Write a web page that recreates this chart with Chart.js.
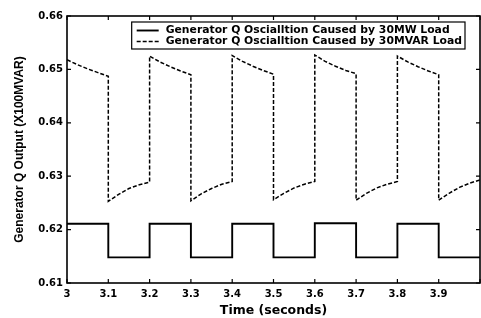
<!DOCTYPE html>
<html>
<head>
<meta charset="utf-8">
<script src="https://cdn.jsdelivr.net/npm/chart.js@4.4.0/dist/chart.umd.min.js"></script>
<style>
  body { margin: 0; background: #fff; }
  #wrap { width: 481px; height: 318px; }
</style>
</head>
<body>
<div id="wrap"><canvas id="myChart"></canvas></div>
<script>
// Q output for the 30MW load case (square wave)
const timeMW = [3.0, 3.1, 3.1, 3.2, 3.2, 3.3, 3.3, 3.4, 3.4, 3.5,
                3.5, 3.6, 3.6, 3.7, 3.7, 3.8, 3.8, 3.9, 3.9, 4.0];
const qMW = [0.6211, 0.6211, 0.6148, 0.6148, 0.6211, 0.6211, 0.6148, 0.6148, 0.6211, 0.6211,
             0.6148, 0.6148, 0.6212, 0.6212, 0.6148, 0.6148, 0.6211, 0.6211, 0.6148, 0.6148];

// Q output for the 30MVAR load case (sawtooth-like)
const timeMVAR = [3.000, 3.025, 3.050, 3.075, 3.100, 3.100, 3.125, 3.150, 3.175, 3.200,
                  3.200, 3.225, 3.250, 3.275, 3.300, 3.300, 3.325, 3.350, 3.375, 3.400,
                  3.400, 3.425, 3.450, 3.475, 3.500, 3.500, 3.525, 3.550, 3.575, 3.600,
                  3.600, 3.625, 3.650, 3.675, 3.700, 3.700, 3.725, 3.750, 3.775, 3.800,
                  3.800, 3.825, 3.850, 3.875, 3.900, 3.900, 3.925, 3.950, 3.975, 4.000];
const qMVAR = [0.6518, 0.6509, 0.6501, 0.6494, 0.6487, 0.6253, 0.6266, 0.6277, 0.6284, 0.6289,
               0.6525, 0.6514, 0.6505, 0.6497, 0.6490, 0.6254, 0.6267, 0.6277, 0.6285, 0.6290,
               0.6526, 0.6515, 0.6506, 0.6498, 0.6491, 0.6256, 0.6268, 0.6278, 0.6285, 0.6290,
               0.6527, 0.6515, 0.6506, 0.6498, 0.6492, 0.6255, 0.6268, 0.6278, 0.6285, 0.6290,
               0.6525, 0.6514, 0.6505, 0.6497, 0.6490, 0.6255, 0.6268, 0.6279, 0.6287, 0.6293];

const labelMW = 'Generator Q Oscialltion Caused by 30MW Load';
const labelMVAR = 'Generator Q Oscialltion Caused by 30MVAR Load';

function toPoints(xs, ys) {
  return xs.map((x, i) => ({ x: x, y: ys[i] }));
}

const tickFont = { family: '"DejaVu Sans"', weight: 'bold', size: 10 };

// box with inward tick marks, matlab style
const framePlugin = {
  id: 'frame',
  afterDatasetsDraw(chart) {
    const { ctx, chartArea: a, scales: { x, y } } = chart;
    ctx.save();
    ctx.strokeStyle = '#000';
    ctx.lineWidth = 1.6;
    ctx.strokeRect(a.left, a.top, a.right - a.left, a.bottom - a.top);
    ctx.lineWidth = 1.2;
    ctx.beginPath();
    x.ticks.forEach(t => {
      const px = x.getPixelForValue(t.value);
      ctx.moveTo(px, a.bottom); ctx.lineTo(px, a.bottom - 4);
      ctx.moveTo(px, a.top); ctx.lineTo(px, a.top + 4);
    });
    y.ticks.forEach(t => {
      const py = y.getPixelForValue(t.value);
      ctx.moveTo(a.left, py); ctx.lineTo(a.left + 4, py);
      ctx.moveTo(a.right, py); ctx.lineTo(a.right - 4, py);
    });
    ctx.stroke();
    ctx.restore();
  }
};

// legend drawn as a boxed key inside the plot, top right
const boxLegend = {
  id: 'boxLegend',
  afterDraw(chart) {
    const { ctx, chartArea: a } = chart;
    const sets = chart.data.datasets;
    ctx.save();
    ctx.font = 'bold 10.8px "DejaVu Sans"';
    const textW = Math.max(...sets.map(d => ctx.measureText(d.label).width));
    const right = a.right - 15, top = a.top + 6, h = 27;
    const left = right - textW - 37;
    ctx.fillStyle = '#fff';
    ctx.fillRect(left, top, right - left, h);
    ctx.strokeStyle = '#000';
    ctx.lineWidth = 1.2;
    ctx.strokeRect(left, top, right - left, h);
    sets.forEach((d, i) => {
      const yy = top + 8.5 + i * 11;
      ctx.setLineDash(d.borderDash || []);
      ctx.lineWidth = d.borderWidth;
      ctx.beginPath();
      ctx.moveTo(left + 5, yy);
      ctx.lineTo(left + 27, yy);
      ctx.stroke();
      ctx.setLineDash([]);
      ctx.fillStyle = '#000';
      ctx.textBaseline = 'middle';
      ctx.fillText(d.label, left + 34, yy);
    });
    ctx.restore();
  }
};

new Chart(document.getElementById('myChart'), {
  type: 'scatter',
  data: {
    datasets: [
      {
        label: labelMW,
        data: toPoints(timeMW, qMW),
        showLine: true,
        borderColor: '#000',
        borderWidth: 1.9,
        pointRadius: 0
      }, {
        label: labelMVAR,
        data: toPoints(timeMVAR, qMVAR),
        showLine: true,
        borderColor: '#000',
        borderWidth: 1.5,
        borderDash: [4, 2],
        pointRadius: 0
      }
    ]
  },
  options: {
    responsive: true,
    maintainAspectRatio: false,
    animation: false,
    layout: { padding: { left: 0, right: 1, top: 16, bottom: 0 } },
    plugins: {
      legend: { display: false },
      tooltip: { enabled: false }
    },
    scales: {
      x: {
        type: 'linear',
        min: 3,
        max: 4,
        grid: { display: false, drawTicks: false },
        border: { display: false },
        ticks: {
          stepSize: 0.1,
          padding: 5,
          color: '#000',
          font: tickFont,
          maxRotation: 0,
          callback: v => (v >= 3.999 ? '' : String(+v.toFixed(1)))
        },
        title: {
          display: true,
          text: 'Time (seconds)',
          color: '#000',
          font: { family: '"DejaVu Sans"', weight: 'bold', size: 12.5 },
          padding: { top: 0, bottom: 0 }
        },
        afterFit: s => { s.height = 35; s.paddingLeft = 0; s.paddingRight = 0; }
      },
      y: {
        min: 0.61,
        max: 0.66,
        grid: { display: false, drawTicks: false },
        border: { display: false },
        ticks: {
          stepSize: 0.01,
          padding: 4,
          color: '#000',
          font: tickFont,
          callback: v => v.toFixed(2)
        },
        title: {
          display: true,
          text: 'Generator Q Output (X100MVAR)',
          color: '#000',
          font: { family: '"Liberation Sans"', weight: 'bold', size: 12 },
          padding: { top: 12, bottom: 0 }
        },
        afterFit: s => { s.width = 67; }
      }
    }
  },
  plugins: [framePlugin, boxLegend]
});
</script>
</body>
</html>
